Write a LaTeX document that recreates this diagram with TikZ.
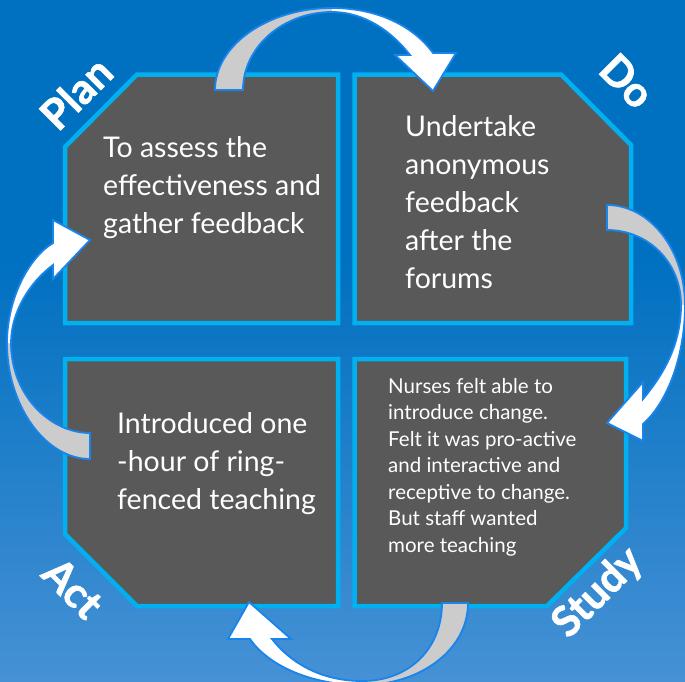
\documentclass[tikz,border=0pt]{standalone}
\usepackage{fontspec}
\setmainfont{Lato}
\newfontfamily\heavylabelfont[BoldFeatures={FakeBold=1.5}]{Lato}
\definecolor{bgtop}{RGB}{0,112,192}
\definecolor{bgbot}{RGB}{70,145,213}
\definecolor{boxfill}{RGB}{89,89,89}
\definecolor{boxline}{RGB}{0,176,240}
\definecolor{arrline}{RGB}{24,132,236}
\definecolor{arrgray}{RGB}{204,204,204}
\begin{document}
\begin{tikzpicture}[x=1pt,y=-1pt,
  boxshape/.style={fill=boxfill,draw=boxline,line width=4.5pt,line join=miter},
  arrgrayfill/.style={fill=arrgray},
  arrwhitefill/.style={fill=white},
  arroutline/.style={draw=arrline,line width=1.8pt,line join=miter},
  boxtext/.style={anchor=base west,inner sep=0pt,text=white,align=left,font=\fontsize{28.5}{38}\selectfont},
  smalltext/.style={anchor=base west,inner sep=0pt,text=white,align=left,font=\fontsize{20.5}{26.5}\selectfont},
  pdcalabel/.style={text=white,font=\heavylabelfont\fontsize{42}{42}\selectfont\bfseries,inner sep=0pt}
]
\useasboundingbox (0,0) rectangle (685,681);
\clip (0,0) rectangle (685,681);
\fill[bgtop] (0,0) rectangle (685,260);
\shade[top color=bgtop,bottom color=bgbot] (0,259) rectangle (685,681);

% boxes
\path[boxshape] (137,74.5) -- (338,74.5) -- (338,323) -- (65,323) -- (65,147) -- cycle;
\path[boxshape] (354.5,74.5) -- (561,74.5) -- (631,145) -- (631,323) -- (354.5,323) -- cycle;
\path[boxshape] (65,359) -- (338,359) -- (338,606) -- (137,606) -- (65,534) -- cycle;
\path[boxshape] (354.5,359) -- (626,359) -- (626,528) -- (547,606) -- (354.5,606) -- cycle;

% arrow 1 (top)
\fill[arrgrayfill] (215,90) .. controls (215,45) and (268,8) .. (332,8) -- (332,12) .. controls (283,12) and (243,47) .. (243,90) -- cycle;
\fill[arrwhitefill] (332,8) .. controls (380,8) and (415,28) .. (433,53) -- (456,53) -- (433,91) -- (395,55) -- (410,55) .. controls (392,32) and (365,12) .. (332,12) -- cycle;
\path[arroutline] (215,90) .. controls (215,45) and (268,8) .. (332,8) .. controls (380,8) and (415,28) .. (433,53) -- (456,53) -- (433,91) -- (395,55) -- (410,55) .. controls (392,32) and (365,12) .. (332,12) .. controls (283,12) and (243,47) .. (243,90) -- cycle;

% arrow 2 (right)
\fill[arrgrayfill] (607,205) .. controls (650,205) and (685,250) .. (685,305) -- (681,305) .. controls (681,262) and (648,230) .. (607,230) -- cycle;
\fill[arrwhitefill] (685,305) .. controls (685,360) and (665,405) .. (643,424) -- (643,441) -- (607,423) -- (643,382) -- (643,399) .. controls (663,375) and (681,345) .. (681,305) -- cycle;
\path[arroutline] (607,205) .. controls (650,205) and (685,250) .. (685,305) .. controls (685,360) and (665,405) .. (643,424) -- (643,441) -- (607,423) -- (643,382) -- (643,399) .. controls (663,375) and (681,345) .. (681,305) .. controls (681,262) and (648,230) .. (607,230) -- cycle;

% arrow 3 (bottom)
\fill[arrgrayfill] (468,603) .. controls (468,650) and (420,685) .. (362,685) -- (362,681) .. controls (410,681) and (442,648) .. (442,603) -- cycle;
\fill[arrwhitefill] (362,685) .. controls (310,685) and (268,665) .. (250,639) -- (228,639) -- (249,602) -- (291,639) -- (272,639) .. controls (290,662) and (320,681) .. (362,681) -- cycle;
\path[arroutline] (468,603) .. controls (468,650) and (420,685) .. (362,685) .. controls (310,685) and (268,665) .. (250,639) -- (228,639) -- (249,602) -- (291,639) -- (272,639) .. controls (290,662) and (320,681) .. (362,681) .. controls (410,681) and (442,648) .. (442,603) -- cycle;

% arrow 4 (left)
\fill[arrgrayfill] (90,459) .. controls (45,459) and (7,405) .. (7,343) -- (11,343) .. controls (11,395) and (50,433) .. (90,433) -- cycle;
\fill[arrwhitefill] (7,343) .. controls (7,300) and (28,258) .. (53,243) -- (53,220) -- (90,240) -- (53,279) -- (53,265) .. controls (30,282) and (11,312) .. (11,343) -- cycle;
\path[arroutline] (90,459) .. controls (45,459) and (7,405) .. (7,343) .. controls (7,300) and (28,258) .. (53,243) -- (53,220) -- (90,240) -- (53,279) -- (53,265) .. controls (30,282) and (11,312) .. (11,343) .. controls (11,395) and (50,433) .. (90,433) -- cycle;

% texts (anchor is the baseline of the last line)
\node[boxtext] (plantext) at (103,233) {To assess the\\effectiveness and\\gather feedback};
\node[boxtext] (dotext) at (405,288) {Undertake\\anonymous\\feedback\\after the\\forums};
\node[boxtext] (acttext) at (117,509) {Introduced one\\-hour of ring-\\fenced teaching};
\node[smalltext] (studytext) at (388,552) {Nurses felt able to\\introduce change.\\Felt it was pro-active\\and interactive and\\receptive to change.\\But staff wanted\\more teaching};

% labels
\node[pdcalabel,rotate=45] (planlabel) at (76,93) {Plan};
\node[pdcalabel,rotate=-45] (dolabel) at (627,81) {Do};
\node[pdcalabel,rotate=-45] (actlabel) at (73,588) {Act};
\node[pdcalabel,rotate=45] (studylabel) at (598,593) {Study};
\end{tikzpicture}
\end{document}
